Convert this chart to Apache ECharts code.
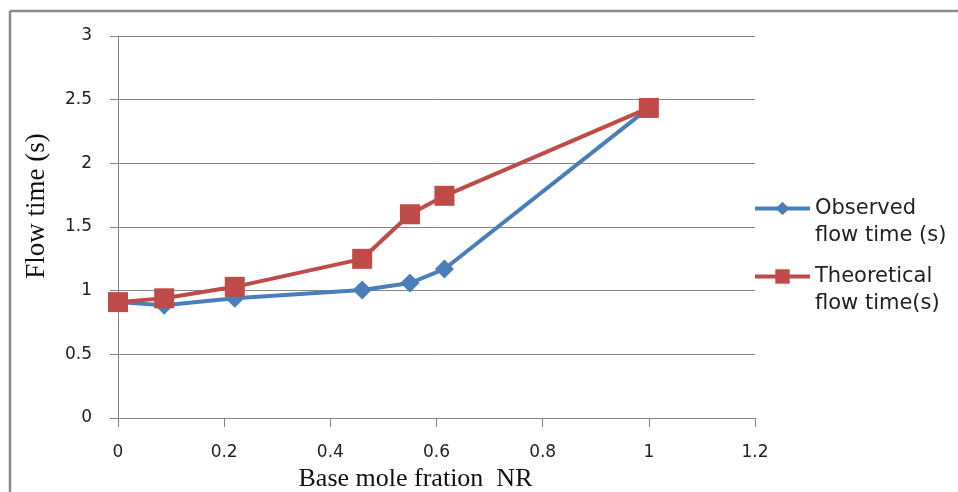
<!DOCTYPE html>
<html>
<head>
<meta charset="utf-8">
<script src="https://cdn.jsdelivr.net/npm/echarts@6/dist/echarts.min.js"></script>
<style>html,body{margin:0;padding:0;background:#fff}#c{width:958px;height:492px}</style>
</head>
<body>
<div id="c"></div>
<script>
const xTicks = [0, 0.2, 0.4, 0.6, 0.8, 1, 1.2];
const yTicks = [0, 0.5, 1, 1.5, 2, 2.5, 3];
const xValues = [0, 0.087, 0.22, 0.46, 0.55, 0.615, 1];
const observed = [0.91, 0.885, 0.94, 1.005, 1.06, 1.17, 2.435];
const theoretical = [0.91, 0.94, 1.03, 1.25, 1.60, 1.745, 2.435];
const seriesNames = ['Observed\nflow time (s)', 'Theoretical\nflow time(s)'];

const chart = echarts.init(document.getElementById('c'));
const grey = '#868686';
const legendText = {fontFamily: 'DejaVu Sans', fontSize: 21, color: '#222', lineHeight: 27};
const legendFmt = name => '\u00a0\n' + name;
chart.setOption({
  animation: false,
  backgroundColor: '#fff',
  grid: {left: 118, right: 203, top: 36, bottom: 74, containLabel: false, outerBoundsMode: 'none'},
  xAxis: {
    type: 'value', min: xTicks[0], max: xTicks[xTicks.length - 1], interval: 0.2,
    name: 'Base mole fration  NR', nameLocation: 'middle', nameGap: 47,
    nameTextStyle: {fontFamily: 'Liberation Serif', fontSize: 26, color: '#111', padding: [0, 42, 0, 0]},
    axisLine: {lineStyle: {color: grey, width: 1}},
    axisTick: {show: true, length: 9, lineStyle: {color: grey}},
    axisLabel: {margin: 26, fontFamily: 'DejaVu Sans', fontSize: 17, color: '#222'},
    splitLine: {show: false}
  },
  yAxis: {
    type: 'value', min: yTicks[0], max: yTicks[yTicks.length - 1], interval: 0.5,
    name: 'Flow time (s)', nameLocation: 'middle', nameGap: 68,
    nameTextStyle: {fontFamily: 'Liberation Serif', fontSize: 27, color: '#111', padding: [0, 0, 0, 42]},
    axisLine: {show: true, lineStyle: {color: grey, width: 1}},
    axisTick: {show: true, length: 8, lineStyle: {color: grey}},
    axisLabel: {margin: 26, fontFamily: 'DejaVu Sans', fontSize: 17, color: '#222'},
    splitLine: {lineStyle: {color: grey, width: 1}}
  },
  legend: [
    {data: [seriesNames[0]], formatter: legendFmt, orient: 'vertical', left: 753, top: 168, padding: 0, itemWidth: 55, itemHeight: 17, lineStyle: {width: 4}, textStyle: legendText},
    {data: [seriesNames[1]], formatter: legendFmt, orient: 'vertical', left: 753, top: 236, padding: 0, itemWidth: 55, itemHeight: 18, lineStyle: {width: 4}, textStyle: legendText}
  ],
  graphic: [
    {type: 'line', shape: {x1: 10, y1: 11, x2: 958, y2: 11}, style: {stroke: '#8a8a8a', lineWidth: 2.5}},
    {type: 'line', shape: {x1: 10, y1: 11, x2: 10, y2: 492}, style: {stroke: '#8a8a8a', lineWidth: 2.5}}
  ],
  series: [
    {
      name: seriesNames[0], type: 'line', data: xValues.map((x, i) => [x, observed[i]]),
      symbol: 'diamond', symbolSize: 19,
      lineStyle: {color: '#4a7ebb', width: 4}, itemStyle: {color: '#4a7ebb'}, z: 2
    },
    {
      name: seriesNames[1], type: 'line', data: xValues.map((x, i) => [x, theoretical[i]]),
      symbol: 'rect', symbolSize: 20,
      lineStyle: {color: '#be4b48', width: 4}, itemStyle: {color: '#be4b48'}, z: 3
    }
  ]
});
</script>
</body>
</html>
